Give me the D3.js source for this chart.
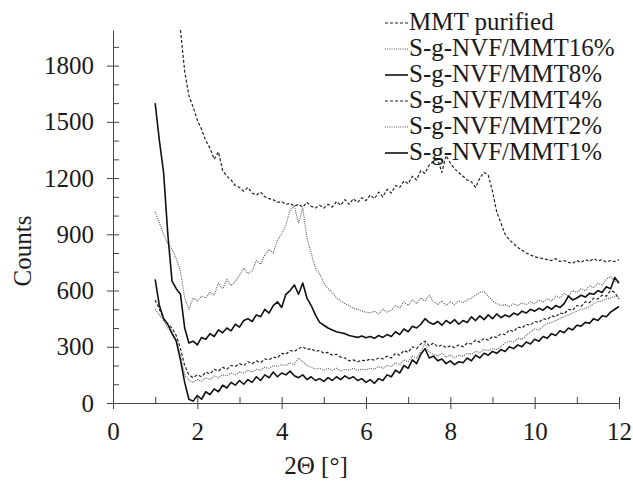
<!DOCTYPE html>
<html>
<head>
<meta charset="utf-8">
<script src="https://cdn.jsdelivr.net/npm/d3@7"></script>
<style>
  body { margin: 0; background: #fff; }
  svg text { font-family: "Liberation Serif", "DejaVu Serif", serif; fill: #1a1a1a; }
</style>
</head>
<body>
<svg id="chart" width="633" height="483"></svg>
<script>
// 2-theta grid (deg)
const theta = [1.0,1.1,1.2,1.3,1.4,1.5,1.6,1.7,1.8,1.9,2.0,2.1,2.2,2.3,2.4,2.5,2.6,2.7,2.8,2.9,
  3.0,3.1,3.2,3.3,3.4,3.5,3.6,3.7,3.8,3.9,4.0,4.1,4.2,4.3,4.4,4.5,4.6,4.7,4.8,4.9,
  5.0,5.1,5.2,5.3,5.4,5.5,5.6,5.7,5.8,5.9,6.0,6.1,6.2,6.3,6.4,6.5,6.6,6.7,6.8,6.9,
  7.0,7.1,7.2,7.3,7.4,7.5,7.6,7.7,7.8,7.9,8.0,8.1,8.2,8.3,8.4,8.5,8.6,8.7,8.8,8.9,
  9.0,9.1,9.2,9.3,9.4,9.5,9.6,9.7,9.8,9.9,10.0,10.1,10.2,10.3,10.4,10.5,10.6,10.7,10.8,10.9,
  11.0,11.1,11.2,11.3,11.4,11.5,11.6,11.7,11.8,11.9,12.0];

const mmtPurified = [null,null,null,null,null,null,1990,1770,1640,1580,1510,1460,1400,1360,1300,1340,1240,1210,1190,1160,
  1150,1130,1150,1120,1110,1125,1100,1090,1085,1070,1075,1060,1065,1050,1060,1045,1070,1050,1040,1055,
  1040,1060,1045,1075,1055,1085,1060,1090,1070,1095,1080,1110,1090,1125,1100,1140,1120,1160,1150,1185,
  1170,1210,1190,1240,1225,1270,1290,1300,1230,1320,1280,1250,1230,1210,1190,1180,1150,1200,1230,1215,
  1130,1020,960,900,870,850,830,815,800,790,780,775,770,765,760,770,755,760,750,745,
  760,750,765,755,770,758,765,752,760,755,765];

const nvf16 = [1020,960,900,850,820,770,700,560,500,560,545,570,560,590,575,640,610,660,625,650,
  680,720,690,705,760,740,790,820,800,870,900,950,1030,1050,960,1040,880,800,720,690,
  640,610,590,560,545,530,520,505,500,490,485,480,490,475,500,485,495,520,505,540,
  520,550,530,560,545,575,540,525,545,520,540,525,545,535,550,560,575,590,595,570,
  545,530,520,525,515,530,520,535,525,540,530,550,540,555,545,570,560,585,570,600,
  590,610,600,625,615,640,630,660,675,650,640];

const nvf8 = [1600,1400,1230,900,650,610,580,400,320,330,310,350,340,370,355,390,375,400,385,420,
  405,440,450,435,470,460,500,480,520,540,510,580,600,630,580,640,560,520,470,430,
  415,400,390,380,375,370,360,355,350,358,348,355,345,360,350,365,355,380,365,395,
  380,410,400,420,450,430,420,435,415,440,425,445,420,440,430,460,440,465,445,470,
  450,475,455,470,460,480,470,490,480,500,490,505,495,515,500,520,510,530,570,550,
  560,575,565,585,580,600,590,620,610,670,640];

const nvf4 = [550,500,450,420,400,360,290,200,150,135,150,140,165,155,180,170,190,180,200,195,
  210,200,220,210,225,215,235,230,245,240,265,260,280,275,290,300,285,290,275,280,
  265,270,255,260,245,240,225,230,220,228,225,235,228,240,235,250,240,265,255,280,
  270,300,290,315,330,305,320,300,310,295,305,295,310,300,320,315,335,325,345,335,
  355,350,370,365,390,380,405,400,420,415,435,430,450,445,465,460,480,475,500,495,
  520,515,540,535,560,555,575,570,600,590,555];

const nvf2 = [500,470,440,400,380,340,250,150,120,110,125,115,135,125,145,135,150,145,160,150,
  165,160,175,165,180,175,190,185,200,195,205,200,215,205,240,220,200,190,180,185,
  175,185,175,185,170,180,175,185,175,180,178,185,180,195,185,200,195,215,205,230,
  220,250,240,275,320,270,260,250,265,245,255,240,255,250,265,260,275,270,285,280,
  290,285,300,320,330,325,345,340,360,380,395,390,410,425,430,440,450,460,470,480,
  490,500,505,515,530,540,545,555,560,570,565];

const nvf1 = [660,520,450,420,370,330,230,110,20,10,40,20,60,45,75,60,95,80,110,95,
  120,100,125,110,140,120,150,135,165,140,160,150,170,145,135,150,125,140,120,130,
  115,135,120,140,125,145,130,140,120,130,110,125,105,130,120,150,140,175,160,200,
  185,230,210,260,290,240,250,225,235,210,225,205,220,215,240,225,255,240,265,255,
  275,265,285,275,300,290,310,300,325,315,340,330,355,345,370,360,385,375,400,390,
  415,410,430,425,450,440,465,460,485,500,515];

const seriesNames = ["MMT purified", "S-g-NVF/MMT16%", "S-g-NVF/MMT8%", "S-g-NVF/MMT4%", "S-g-NVF/MMT2%", "S-g-NVF/MMT1%"];
const seriesValues = [mmtPurified, nvf16, nvf8, nvf4, nvf2, nvf1];

const xMajor = [0, 2, 4, 6, 8, 10, 12];
const xMinor = [1, 3, 5, 7, 9, 11];
const yMajor = [0, 300, 600, 900, 1200, 1500, 1800];
const yMinor = [100, 200, 400, 500, 700, 800, 1000, 1100, 1300, 1400, 1600, 1700, 1900];

// line styles per series
const styles = [
  { color: "#222", width: 1.2, dash: "3,2" },
  { color: "#555", width: 1.1, dash: "1,1.2" },
  { color: "#111", width: 1.6, dash: null },
  { color: "#222", width: 1.2, dash: "3,2" },
  { color: "#555", width: 1.1, dash: "1,1.2" },
  { color: "#111", width: 1.6, dash: null }
];

const serif = "'Liberation Serif', 'DejaVu Serif', serif";
const svg = d3.select("#chart");
const x = d3.scaleLinear().domain([0, 12]).range([113, 619]);
const y = d3.scaleLinear().domain([0, 1990]).range([403, 30]);
const axisColor = "#444";
const fmt = d3.format("d");

// x axis
const gx = svg.append("g").attr("transform", "translate(0,403)");
gx.call(d3.axisBottom(x).tickValues(xMajor).tickFormat(fmt).tickSize(6).tickSizeOuter(0).tickPadding(13));
gx.selectAll(".tick line").attr("y1", -6).attr("y2", 6);
gx.append("g").call(d3.axisBottom(x).tickValues(xMinor).tickSize(-6).tickFormat(""))
  .select(".domain").remove();

// y axis
const gy = svg.append("g").attr("transform", "translate(113,0)");
gy.call(d3.axisLeft(y).tickValues(yMajor).tickFormat(fmt).tickSize(6).tickSizeOuter(0).tickPadding(13));
gy.selectAll(".tick line").attr("x1", -6).attr("x2", 6);
gy.append("g").call(d3.axisLeft(y).tickValues(yMinor).tickSize(-6).tickFormat(""))
  .select(".domain").remove();

gx.attr("font-family", serif).attr("font-size", 25);
gy.attr("font-family", serif).attr("font-size", 25);
svg.selectAll(".domain, .tick line").attr("stroke", axisColor).attr("stroke-width", 1);
svg.selectAll(".tick text").attr("font-family", serif).style("font-family", serif)
  .style("font-size", "25px").attr("fill", "#1a1a1a");
gx.selectAll(".tick text").attr("dy", "0.71em");

// axis titles
svg.append("text").attr("x", 316).attr("y", 474).attr("text-anchor", "middle")
  .style("font-size", "25px").text("2\u0398 [\u00b0]");
svg.append("text").attr("transform", "translate(31,251) rotate(-90)").attr("text-anchor", "middle")
  .style("font-size", "25px").text("Counts");

// curves
const line = d3.line()
  .defined(d => d[1] != null)
  .x(d => x(d[0]))
  .y(d => y(d[1]));

seriesValues.forEach((vals, i) => {
  const pts = theta.map((t, j) => [t, vals[j]]);
  const s = styles[i];
  svg.append("path")
    .datum(pts)
    .attr("fill", "none")
    .attr("stroke", s.color)
    .attr("stroke-width", s.width)
    .attr("stroke-dasharray", s.dash)
    .attr("stroke-linejoin", "round")
    .attr("d", line);
});

// legend
const legend = svg.append("g");
seriesNames.forEach((name, i) => {
  const by = 30 + i * 26;
  const s = styles[i];
  legend.append("line")
    .attr("x1", 385).attr("x2", 408)
    .attr("y1", by - 7).attr("y2", by - 7)
    .attr("stroke", s.color)
    .attr("stroke-width", s.width)
    .attr("stroke-dasharray", s.dash);
  legend.append("text")
    .attr("x", 409).attr("y", by)
    .style("font-size", "25px")
    .text(name);
});
</script>
</body>
</html>
